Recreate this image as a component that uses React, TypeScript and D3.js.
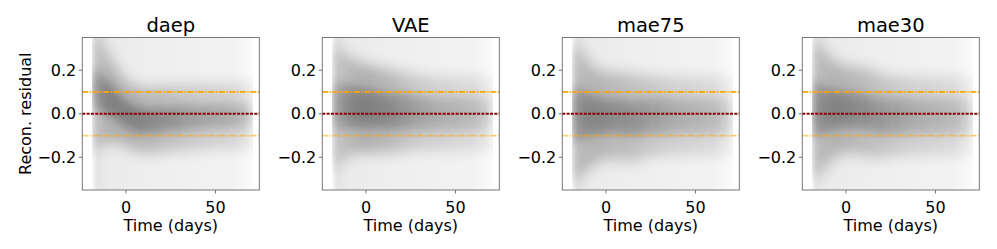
import * as React from "react";
import * as d3 from "d3";

// panels, left to right
const models = ["daep", "VAE", "mae75", "mae30"];

const times = [-20, -15, -10, -5, 0, 5, 10, 15, 20, 30, 40, 50, 60, 70];

// centre of the dense core of residual curves, per model
const centerDaep = [0.12, 0.1, 0.07, 0.035, 0.0, -0.02, -0.03, -0.03, -0.025, -0.02, -0.015, -0.012, -0.01, -0.01];
const centerVae = [0.03, 0.035, 0.035, 0.03, 0.025, 0.02, 0.015, 0.01, 0.01, 0.005, 0.0, 0.0, 0.0, 0.0];
const centerMae75 = [0.0, 0.0, -0.005, -0.01, -0.01, -0.01, -0.015, -0.02, -0.015, -0.01, -0.01, -0.01, -0.01, -0.01];
const centerMae30 = [0.02, 0.02, 0.02, 0.02, 0.02, 0.015, 0.01, 0.0, -0.01, -0.01, -0.01, -0.01, -0.01, -0.01];

// half width of the core
const coreDaep = [0.1, 0.09, 0.08, 0.07, 0.065, 0.065, 0.06, 0.06, 0.06, 0.06, 0.06, 0.06, 0.06, 0.06];
const coreVae = [0.12, 0.11, 0.1, 0.095, 0.09, 0.09, 0.085, 0.085, 0.085, 0.08, 0.08, 0.08, 0.08, 0.08];
const coreMae75 = [0.14, 0.12, 0.1, 0.09, 0.085, 0.085, 0.085, 0.085, 0.085, 0.085, 0.085, 0.085, 0.085, 0.085];
const coreMae30 = [0.14, 0.12, 0.1, 0.09, 0.085, 0.085, 0.085, 0.085, 0.085, 0.085, 0.085, 0.085, 0.085, 0.085];

// half width of the lighter halo
const haloDaep = [0.3, 0.26, 0.2, 0.17, 0.15, 0.15, 0.15, 0.15, 0.15, 0.15, 0.15, 0.15, 0.15, 0.15];
const haloVae = [0.3, 0.27, 0.23, 0.21, 0.2, 0.2, 0.19, 0.19, 0.18, 0.17, 0.17, 0.17, 0.17, 0.17];
const haloMae75 = [0.33, 0.3, 0.25, 0.21, 0.2, 0.2, 0.2, 0.2, 0.19, 0.18, 0.18, 0.18, 0.18, 0.18];
const haloMae30 = [0.33, 0.3, 0.25, 0.21, 0.2, 0.2, 0.2, 0.2, 0.19, 0.18, 0.18, 0.18, 0.18, 0.18];

// relative darkness of the core along time
const densDaep = [0.3, 0.75, 1.0, 0.95, 0.95, 0.95, 0.9, 0.85, 0.8, 0.7, 0.6, 0.55, 0.5, 0.35];
const densVae = [0.3, 0.6, 0.85, 0.95, 1.0, 0.95, 0.9, 0.85, 0.75, 0.6, 0.5, 0.45, 0.4, 0.25];
const densMae75 = [0.35, 0.8, 0.9, 0.9, 0.85, 0.8, 0.8, 0.75, 0.7, 0.6, 0.5, 0.45, 0.4, 0.25];
const densMae30 = [0.35, 0.8, 0.9, 0.95, 0.9, 0.85, 0.8, 0.75, 0.7, 0.6, 0.5, 0.45, 0.4, 0.25];

const centers = [centerDaep, centerVae, centerMae75, centerMae30];
const cores = [coreDaep, coreVae, coreMae75, coreMae30];
const halos = [haloDaep, haloVae, haloMae75, haloMae30];
const densities = [densDaep, densVae, densMae75, densMae30];

const xTicks = [0, 50];
const yTicks = [-0.2, 0, 0.2];
const timeExtent = [-19, 71];

const W = 997;
const H = 249;
const panelLeft = 82.3;
const panelStep = 240;
const pw = 177;
const top = 37.5;
const ph = 152.5;
const font = "DejaVu Sans, sans-serif";

const x = d3.scaleLinear().domain([-24.5, 74.5]).range([0, pw]);
const y = d3.scaleLinear().domain([-0.35, 0.35]).range([ph, 0]);
const fmt = d3.format(".1f");

const Panel = ({ i }: { i: number }) => {
  const c = centers[i];
  const core = cores[i];
  const halo = halos[i];
  const dens = densities[i];
  const pts = times.map((t, k) => ({ t, c: c[k], w: core[k], h: halo[k] }));

  const band = (key: "w" | "h", scale: number) =>
    d3
      .area<any>()
      .curve(d3.curveMonotoneX)
      .x((d) => x(d.t))
      .y0((d) => y(d.c - d[key] * scale))
      .y1((d) => y(d.c + d[key] * scale))(pts) as string;

  const id = `p${i}`;
  const x0 = x(timeExtent[0]);
  const span = x(timeExtent[1]) - x0;
  return (
    <g transform={`translate(${panelLeft + i * panelStep},${top})`}>
      <defs>
        <clipPath id={`clip-${id}`}>
          <rect x={x0} width={span} height={ph} />
        </clipPath>
        <linearGradient id={`g-${id}`} gradientUnits="userSpaceOnUse" x1={x(times[0])} x2={x(times[times.length - 1])} y1={0} y2={0}>
          {times.map((t, k) => (
            <stop key={k} offset={(t - times[0]) / (times[times.length - 1] - times[0])} stopColor="#555" stopOpacity={dens[k]} />
          ))}
        </linearGradient>
        <linearGradient id={`bg-${id}`} gradientUnits="userSpaceOnUse" x1={x0} x2={x0 + span} y1={0} y2={0}>
          <stop offset={0} stopColor="#999" stopOpacity={0.08} />
          <stop offset={(x(-16) - x0) / span} stopColor="#999" stopOpacity={0.26} />
          <stop offset={(x(-10) - x0) / span} stopColor="#999" stopOpacity={0.2} />
          <stop offset={(x(10) - x0) / span} stopColor="#999" stopOpacity={0.17} />
          <stop offset={(x(60) - x0) / span} stopColor="#999" stopOpacity={0.12} />
          <stop offset={1} stopColor="#999" stopOpacity={0.04} />
        </linearGradient>
        <filter id={`blur-${id}`} x="-20%" y="-20%" width="140%" height="140%">
          <feGaussianBlur stdDeviation={4} />
        </filter>
        <filter id={`blur2-${id}`} x="-20%" y="-20%" width="140%" height="140%">
          <feGaussianBlur stdDeviation={7} />
        </filter>
      </defs>
      <g clipPath={`url(#clip-${id})`}>
        <rect x={x0} width={span} y={0} height={ph} fill={`url(#bg-${id})`} />
        <g filter={`url(#blur2-${id})`} opacity={0.4}>
          <path d={band("h", 1)} fill={`url(#g-${id})`} />
        </g>
        <g filter={`url(#blur-${id})`} opacity={0.42}>
          <path d={band("w", 1)} fill={`url(#g-${id})`} />
        </g>
        <g filter={`url(#blur-${id})`} opacity={0.2}>
          <path d={band("w", 0.55)} fill={`url(#g-${id})`} />
        </g>
      </g>
      <line x1={0} x2={pw} y1={y(0.1)} y2={y(0.1)} stroke="#ffa500" strokeWidth={1.8} strokeDasharray="6 1.5 1.5 1.5" />
      <line x1={0} x2={pw} y1={y(-0.1)} y2={y(-0.1)} stroke="#ffa500" strokeOpacity={0.55} strokeWidth={1.8} strokeDasharray="6 1.5 1.5 1.5" />
      <line x1={0} x2={pw} y1={y(0)} y2={y(0)} stroke="#8b0000" strokeWidth={1.8} strokeDasharray="3 1.3" />
      <rect width={pw} height={ph} fill="none" stroke="#777" strokeWidth={1} />
      {yTicks.map((v) => (
        <g key={v} transform={`translate(0,${y(v)})`}>
          <line x1={-3.5} x2={0} stroke="#777" />
          <text x={-6} dy="0.35em" textAnchor="end" fontSize={16} fontFamily={font}>
            {fmt(v)}
          </text>
        </g>
      ))}
      {xTicks.map((v) => (
        <g key={v} transform={`translate(${x(v)},${ph})`}>
          <line y1={0} y2={3.5} stroke="#777" />
          <text y={23} textAnchor="middle" fontSize={16} fontFamily={font}>
            {v}
          </text>
        </g>
      ))}
      <text x={pw / 2} y={ph + 41} textAnchor="middle" fontSize={16} fontFamily={font}>
        Time (days)
      </text>
      <text x={pw / 2} y={-6} textAnchor="middle" fontSize={19.5} fontFamily={font}>
        {models[i]}
      </text>
    </g>
  );
};

export default function App() {
  return (
    <svg width={W} height={H} style={{ position: "absolute", left: 0, top: 0, background: "#fff" }}>
      {models.map((m, i) => (
        <Panel key={m} i={i} />
      ))}
      <text
        transform={`translate(31,${top + y(0)}) rotate(-90)`}
        textAnchor="middle"
        fontSize={16}
        fontFamily={font}
      >
        Recon. residual
      </text>
    </svg>
  );
}
